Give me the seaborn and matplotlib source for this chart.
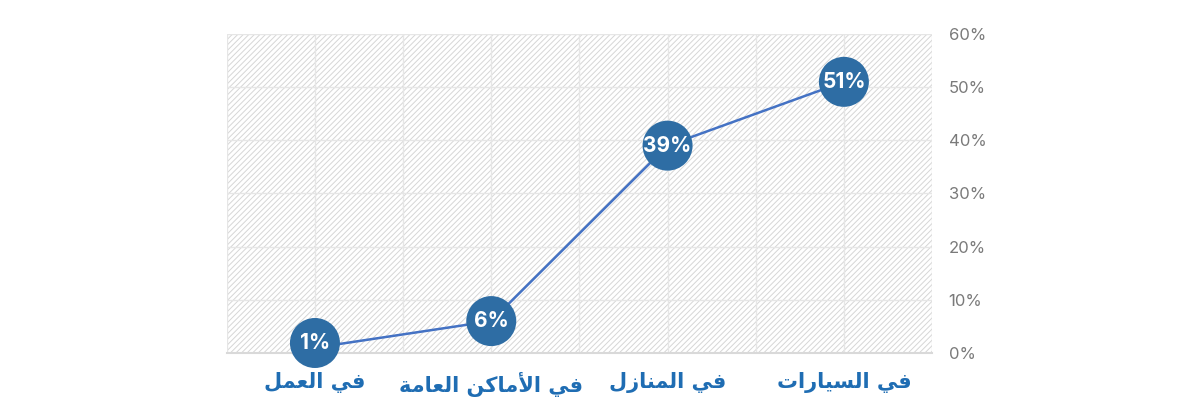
import numpy as np
import pandas as pd
import seaborn as sns
import matplotlib.pyplot as plt
from matplotlib.patches import Rectangle
from matplotlib.ticker import MultipleLocator, FuncFormatter

# Data
categories = ["في العمل", "في الأماكن العامة", "في المنازل", "في السيارات"]
values = [1, 6, 39, 51]
y_ticks = [0, 10, 20, 30, 40, 50, 60]

# minimal Arabic shaping (matplotlib has no complex text layout)
FORMS = {
    "ا": ("\uFE8D", "\uFE8E"), "أ": ("\uFE83", "\uFE84"),
    "ة": ("\uFE93", "\uFE94"), "ر": ("\uFEAD", "\uFEAE"),
    "ز": ("\uFEAF", "\uFEB0"),
    "ت": ("\uFE95", "\uFE96", "\uFE97", "\uFE98"),
    "س": ("\uFEB1", "\uFEB2", "\uFEB3", "\uFEB4"),
    "ع": ("\uFEC9", "\uFECA", "\uFECB", "\uFECC"),
    "ف": ("\uFED1", "\uFED2", "\uFED3", "\uFED4"),
    "ك": ("\uFED9", "\uFEDA", "\uFEDB", "\uFEDC"),
    "ل": ("\uFEDD", "\uFEDE", "\uFEDF", "\uFEE0"),
    "م": ("\uFEE1", "\uFEE2", "\uFEE3", "\uFEE4"),
    "ن": ("\uFEE5", "\uFEE6", "\uFEE7", "\uFEE8"),
    "ي": ("\uFEF1", "\uFEF2", "\uFEF3", "\uFEF4"),
    "لا": ("\uFEFB", "\uFEFC"), "لأ": ("\uFEF7", "\uFEF8"),
}


def shape(text):
    words = []
    for word in text.split(" "):
        chars, i = [], 0
        while i < len(word):
            if word[i] == "ل" and i + 1 < len(word) and word[i + 1] in "اأ":
                chars.append(word[i:i + 2])
                i += 2
            else:
                chars.append(word[i])
                i += 1
        glyphs = []
        for k, c in enumerate(chars):
            f = FORMS[c]
            jp = k > 0 and len(FORMS[chars[k - 1]]) == 4
            jn = k + 1 < len(chars) and len(f) == 4
            if jp and jn:
                g = f[3]
            elif jp:
                g = f[1]
            elif jn:
                g = f[2]
            else:
                g = f[0]
            glyphs.append(g)
        words.append("".join(reversed(glyphs)))
    return " ".join(reversed(words))


df = pd.DataFrame({"pos": np.arange(len(categories)), "value": values})

sns.set_style("white")
plt.rcParams["font.family"] = ["Inter", "DejaVu Sans"]
plt.rcParams["hatch.linewidth"] = 0.7
plt.rcParams["hatch.color"] = "#d6d6d6"

fig = plt.figure(figsize=(12, 4.13), dpi=100)
ax = fig.add_axes([0.189, 0.1453, 0.5877, 0.7724])

# hatched background
ax.add_patch(Rectangle((0, 0), 1, 1, transform=ax.transAxes, facecolor="white",
                       edgecolor="#d6d6d6", hatch="//////", linewidth=0, zorder=0))

ax.set_xlim(-0.5, 3.5)
ax.set_ylim(0, 60)
ax.xaxis.set_major_locator(MultipleLocator(1))
ax.xaxis.set_minor_locator(MultipleLocator(0.5))
ax.set_yticks(y_ticks)
ax.grid(True, which="both", axis="x", color="#e6e6e6", linewidth=1, zorder=1)
ax.grid(True, which="major", axis="y", color="#e6e6e6", linewidth=1, zorder=1)
ax.set_axisbelow(True)

sns.lineplot(data=df, x="pos", y="value", ax=ax, color="#4472c4", linewidth=1.8,
             zorder=3)

# bubbles keep at least ~10 px above the baseline (like the original renderer)
px_per_unit = ax.bbox.height / (ax.get_ylim()[1] - ax.get_ylim()[0])
df["bubble_y"] = np.maximum(df["value"], 10 / px_per_unit)

sns.scatterplot(data=df, x="pos", y="bubble_y", ax=ax, s=36 ** 2, color="#2e6da4",
                edgecolor="none", zorder=4, clip_on=False, legend=False)

for x, y, v in zip(df["pos"], df["bubble_y"], df["value"]):
    ax.text(x, y, f"{v}%", ha="center", va="center", color="white",
            fontsize=15, fontweight="bold", zorder=5, clip_on=False)

ax.set_xticks(df["pos"])
ax.set_xticklabels([shape(c) for c in categories], fontsize=15, fontweight="bold",
                   color="#1f6db3", family=["DejaVu Sans"])
ax.tick_params(axis="x", which="both", length=0, pad=14)
ax.yaxis.tick_right()
ax.yaxis.set_major_formatter(FuncFormatter(lambda v, p: f"{int(v)}%"))
ax.tick_params(axis="y", length=0, pad=12, labelsize=12, labelcolor="#7a7a7a")
ax.set_xlabel("")
ax.set_ylabel("")

for s in ["top", "left", "right"]:
    ax.spines[s].set_visible(False)
ax.spines["bottom"].set_color("#d9d9d9")
ax.spines["bottom"].set_linewidth(1.5)

plt.savefig("out.png", dpi=100)
